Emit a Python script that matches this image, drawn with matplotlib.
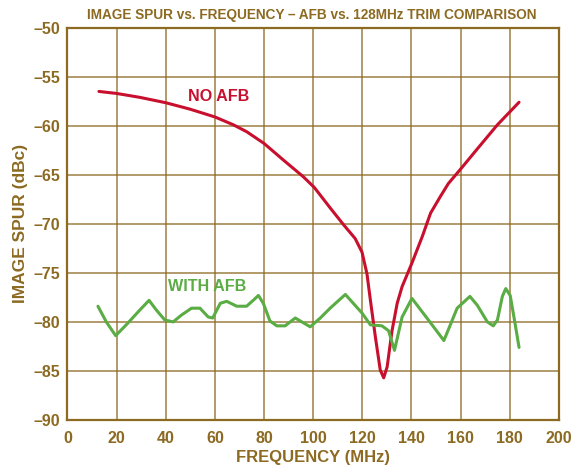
import matplotlib
matplotlib.use("Agg")
import matplotlib.pyplot as plt
from matplotlib.ticker import FuncFormatter

# NO AFB curve
no_afb_mhz = [12.8, 19.9, 29.4, 40, 49.8, 60, 67.5, 72.9, 80, 87.9, 96, 100.5,
              107, 112.4, 117.1, 119.9, 121.9, 123.3, 125.3, 127.3, 128.7,
              130.1, 132.1, 134.2, 136.2, 140.2, 144.4, 147.8, 151.8, 155,
              160.4, 167, 175, 183.8]
no_afb_dbc = [-56.5, -56.7, -57.1, -57.65, -58.3, -59.1, -59.9, -60.6, -61.8,
              -63.5, -65.2, -66.3, -68.4, -70.1, -71.5, -72.9, -75.1, -77.8,
              -81.5, -84.9, -85.7, -84.6, -80.9, -78.1, -76.4, -74.0, -71.3,
              -68.9, -67.2, -65.9, -64.3, -62.3, -59.9, -57.6]

# WITH AFB curve
afb_mhz = [12.4, 15.8, 19.6, 23.9, 29.4, 33.2, 36.2, 39.6, 43, 46.4, 50.5,
           53.9, 57.3, 59.1, 62.2, 64.8, 68.9, 72.9, 75.6, 77.7, 79.7, 82.4,
           85.2, 88.6, 92.7, 95.4, 98.8, 102.9, 106.9, 113.1, 119.9, 123.3,
           128, 130.7, 133.1, 136.2, 140.2, 147.8, 153.2, 158.6, 163.8,
           166.8, 170.9, 173.3, 175, 177, 178.4, 180.2, 182.2, 183.8]
afb_dbc = [-78.4, -80.0, -81.4, -80.3, -78.8, -77.8, -78.8, -79.8, -80.0,
           -79.3, -78.6, -78.6, -79.5, -79.6, -78.1, -77.9, -78.4, -78.4,
           -77.8, -77.3, -78.1, -79.9, -80.4, -80.4, -79.6, -80.0, -80.5,
           -79.6, -78.6, -77.2, -79.1, -80.3, -80.4, -80.9, -82.9, -79.5,
           -77.6, -80.1, -81.9, -78.6, -77.4, -78.3, -80.0, -80.4, -79.8,
           -77.4, -76.6, -77.3, -80.2, -82.6]

x_ticks = list(range(0, 201, 20))
y_ticks = list(range(-90, -49, 5))

BROWN = "#8c6a22"
RED = "#c8102e"
GREEN = "#5aac44"

plt.rcParams["font.family"] = ["Liberation Sans", "DejaVu Sans"]
plt.rcParams["font.weight"] = "bold"

fig = plt.figure(figsize=(5.72, 4.68), dpi=100)
ax = fig.add_axes([0.118, 0.1026, 0.859, 0.8382])

ax.plot(no_afb_mhz, no_afb_dbc, color=RED, lw=2.2, solid_joinstyle="round",
        solid_capstyle="round", zorder=3)
ax.plot(afb_mhz, afb_dbc, color=GREEN, lw=2.2, solid_joinstyle="round",
        solid_capstyle="round", zorder=3)

ax.text(61.5, -57.0, "NO AFB", color=RED, fontsize=11.6, fontweight="bold",
        ha="center", va="center")
ax.text(57, -76.4, "WITH AFB", color=GREEN, fontsize=11.6, fontweight="bold",
        ha="center", va="center")

ax.set_xlim(0, 200)
ax.set_ylim(-90, -50)
ax.set_xticks(x_ticks)
ax.set_yticks(y_ticks)
ax.yaxis.set_major_formatter(FuncFormatter(lambda v, p: f"{v:.0f}".replace("-", "\u2013")))
ax.grid(True, color=BROWN, lw=1.1, alpha=0.85, zorder=1)
for s in ax.spines.values():
    s.set_color(BROWN)
    s.set_linewidth(1.6)
ax.tick_params(axis="y", length=0, pad=5, labelcolor=BROWN, labelsize=11.5)
ax.tick_params(axis="x", length=0, pad=8, labelcolor=BROWN, labelsize=11.5)
for lab in ax.get_xticklabels() + ax.get_yticklabels():
    lab.set_fontweight("bold")

ax.set_xlabel("FREQUENCY (MHz)", color=BROWN, fontsize=12, fontweight="bold", labelpad=3)
ax.set_ylabel("IMAGE SPUR (dBc)", color=BROWN, fontsize=12.5, fontweight="bold", labelpad=4)
fig.text(0.545, 0.968, "IMAGE SPUR vs. FREQUENCY \u2013 AFB vs. 128MHz TRIM COMPARISON",
         color=BROWN, fontsize=9.8, fontweight="bold", ha="center", va="center")

fig.savefig("out.png", dpi=100, facecolor="white")
